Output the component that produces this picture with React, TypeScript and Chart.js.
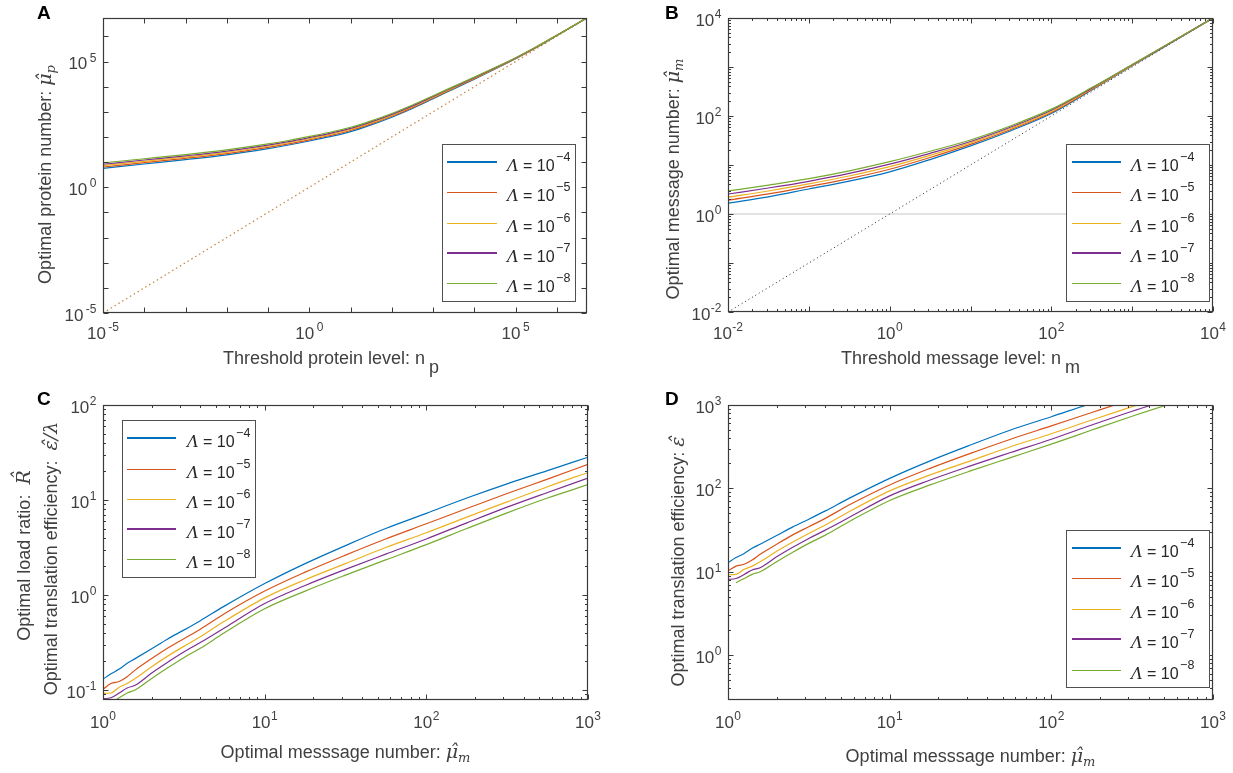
import React, { useEffect, useRef } from 'react';
import { Chart, registerables } from 'chart.js';

Chart.register(...registerables);

const SANS = '"Liberation Sans", Arial, Helvetica, sans-serif';
const SERIF = '"DejaVu Serif", "Liberation Serif", serif';

const COLORS = ['#0072BD', '#D95319', '#EDB120', '#7E2F8E', '#77AC30'];
const LAMBDA_EXP = ['\u22124', '\u22125', '\u22126', '\u22127', '\u22128'];

// ---------- Panel A : optimal protein number vs threshold protein level ----------
const A_X = [1e-5, 1e-4, 1e-3, 1e-2, 0.1, 0.316, 1, 3.16, 10, 31.6, 100, 316, 1000, 3162, 1e4, 31623, 1e5, 316228, 1e6, 5.37e6];
const A_L4 = [5.62, 8.41, 12.6, 19.5, 34.5, 47.9, 69.2, 103, 164, 302, 610, 1349, 3311, 8128, 19953, 50119, 128825, 358922, 1.076e6, 5.45e6];
const A_L5 = [6.38, 9.49, 14.1, 21.9, 38.4, 53.1, 76.7, 114, 181, 331, 665, 1462, 3548, 8610, 20893, 51880, 131826, 365174, 1.086e6, 5.45e6];
const A_L6 = [7.24, 10.7, 15.8, 24.5, 42.7, 58.9, 85.1, 126, 200, 363, 724, 1585, 3802, 9120, 21878, 53703, 134896, 371535, 1.096e6, 5.45e6];
const A_L7 = [8.22, 12.1, 17.8, 27.5, 47.4, 65.3, 94.4, 139, 220, 398, 790, 1718, 4074, 9661, 22909, 55590, 138038, 378034, 1.107e6, 5.45e6];
const A_L8 = [9.33, 13.6, 20.0, 30.9, 52.7, 72.4, 105, 154, 243, 437, 861, 1862, 4365, 10233, 23988, 57544, 141254, 384592, 1.117e6, 5.45e6];
const A_DIAG = [1e-5, 5.37e6];

// ---------- Panel B : optimal message number vs threshold message level ----------
const B_X = [0.01, 0.0316, 0.1, 0.316, 1, 3.16, 10, 31.6, 100, 316, 1000, 3162, 10000];
const B_L4 = [1.66, 2.24, 3.24, 4.68, 7.24, 12.9, 24.5, 50.1, 112, 339, 1059, 3251, 10000];
const B_L5 = [1.92, 2.57, 3.65, 5.28, 8.18, 14.2, 26.3, 53.1, 118, 349, 1074, 3273, 10000];
const B_L6 = [2.21, 2.95, 4.12, 5.96, 9.23, 15.7, 28.2, 56.2, 124, 359, 1090, 3300, 10000];
const B_L7 = [2.56, 3.39, 4.65, 6.72, 10.4, 17.3, 30.2, 59.6, 131, 369, 1107, 3327, 10000];
const B_L8 = [2.95, 3.89, 5.25, 7.59, 11.7, 19.1, 32.4, 63.1, 138, 380, 1122, 3350, 10000];
const B_DIAG = [0.01, 10000];
const B_UNIT = [1, 1];

// ---------- Panel C : optimal load ratio vs optimal message number ----------
const CD_X = [1, 1.12, 1.26, 1.41, 1.58, 2, 2.5, 3.16, 4, 5.6, 10, 17.8, 31.6, 56, 100, 178, 316, 562, 1000];
const C_L4 = [0.13, 0.148, 0.166, 0.191, 0.214, 0.272, 0.343, 0.427, 0.537, 0.759, 1.32, 2.14, 3.31, 5.01, 7.24, 10.5, 14.8, 20.4, 28.2];
const C_L5 = [0.102, 0.117, 0.123, 0.138, 0.162, 0.214, 0.275, 0.347, 0.437, 0.631, 1.1, 1.74, 2.63, 3.89, 5.62, 8.13, 11.7, 16.6, 23.7];
const C_L6 = [0.092, 0.093, 0.107, 0.117, 0.132, 0.176, 0.226, 0.288, 0.363, 0.525, 0.933, 1.45, 2.14, 3.16, 4.52, 6.61, 9.55, 13.8, 19.5];
const C_L7 = [0.081, 0.083, 0.093, 0.105, 0.112, 0.151, 0.195, 0.251, 0.316, 0.447, 0.813, 1.26, 1.86, 2.69, 3.89, 5.75, 8.41, 12.0, 17.0];
const C_L8 = [null, 0.074, 0.083, 0.093, 0.1, 0.132, 0.17, 0.219, 0.275, 0.398, 0.716, 1.1, 1.62, 2.34, 3.39, 5.01, 7.33, 10.5, 14.5];

// ---------- Panel D : optimal translation efficiency vs optimal message number ----------
const D_L4 = [12.8, 14.8, 16.6, 19.1, 21.4, 27.2, 34.3, 42.7, 53.7, 75.9, 132, 214, 331, 501, 724, 1050, 1480, 2040, 2820];
const D_L5 = [10.2, 11.7, 12.3, 13.8, 16.2, 21.4, 27.5, 34.7, 43.7, 63.1, 110, 174, 263, 389, 562, 813, 1170, 1660, 2370];
const D_L6 = [9.2, 9.3, 10.7, 11.7, 13.2, 17.6, 22.6, 28.8, 36.3, 52.5, 93.3, 145, 214, 316, 452, 661, 955, 1380, 1950];
const D_L7 = [8.1, 8.3, 9.3, 10.5, 11.2, 15.1, 19.5, 25.1, 31.6, 44.7, 81.3, 126, 186, 269, 389, 575, 841, 1200, 1700];
const D_L8 = [null, 7.4, 8.3, 9.3, 10.0, 13.2, 17.0, 21.9, 27.5, 39.8, 71.6, 110, 162, 234, 339, 501, 733, 1050, 1450];

// tick labels (exponents of 10)
const A_X_TICKS = [1e-5, 1, 1e5];
const A_X_EXP = ['-5', '0', '5'];
const A_Y_TICKS = [1e-5, 1, 1e5];
const A_Y_EXP = ['-5', '0', '5'];
const B_TICKS = [1e-2, 1, 1e2, 1e4];
const B_EXP = ['-2', '0', '2', '4'];
const C_X_TICKS = [1, 10, 100, 1000];
const C_X_EXP = ['0', '1', '2', '3'];
const C_Y_TICKS = [0.1, 1, 10, 100];
const C_Y_EXP = ['-1', '0', '1', '2'];
const D_Y_TICKS = [1, 10, 100, 1000];
const D_Y_EXP = ['0', '1', '2', '3'];

type Seg = { t: string; f: string; dy?: number; hat?: boolean; hatLift?: number; gb?: number };

const T18 = `18px ${SANS}`;
const MI18 = `italic 19px ${SERIF}`;
const MI13 = `italic 13px ${SERIF}`;
const TEXT = '#404040';
const FRAME = '#3a3a3a';

function drawSegs(ctx: CanvasRenderingContext2D, segs: Seg[], x: number, y: number, align: string, color: string) {
  let total = 0;
  for (const s of segs) {
    ctx.font = s.f;
    total += ctx.measureText(s.t).width + (s.gb || 0);
  }
  let cx = align === 'left' ? x : align === 'center' ? x - total / 2 : x - total;
  ctx.textAlign = 'left';
  ctx.textBaseline = 'alphabetic';
  ctx.fillStyle = color;
  for (const s of segs) {
    cx += s.gb || 0;
    ctx.font = s.f;
    const w = ctx.measureText(s.t).width;
    ctx.fillText(s.t, cx, y + (s.dy || 0));
    if (s.hat) {
      ctx.textAlign = 'center';
      ctx.fillText('\u02C6', cx + w / 2 + 1.5, y + (s.dy || 0) - (s.hatLift || 0));
      ctx.textAlign = 'left';
    }
    cx += w;
  }
}

interface LegendSpec { x: number; y: number; w: number; h: number; lx0: number; lx1: number; tx: number; row0: number; step: number }
interface PanelSpec {
  id: string; left: number; top: number; width: number; height: number;
  padding: { left: number; top: number; right: number; bottom: number };
  xMin: number; xMax: number; yMin: number; yMax: number;
  xTicks: number[]; xExp: string[]; yTicks: number[]; yExp: string[];
  minor: boolean; expGap: number;
  letter: string; letterPos: [number, number];
  xTitle: Seg[]; xTitleY: number; xTitleDx: number; xLabelOff: number;
  yTitles: { segs: Seg[]; x: number; shift: number }[];
  legend: LegendSpec;
  datasets: any[];
}

function decades(min: number, max: number) {
  const r: number[] = [];
  for (let e = Math.ceil(Math.log10(min) - 1e-9); e <= Math.floor(Math.log10(max) + 1e-9); e++) r.push(Math.pow(10, e));
  return r;
}
function minorTicks(min: number, max: number) {
  const r: number[] = [];
  for (let e = Math.floor(Math.log10(min)) - 1; e <= Math.ceil(Math.log10(max)); e++) {
    for (let k = 2; k <= 9; k++) {
      const v = k * Math.pow(10, e);
      if (v > min && v < max) r.push(v);
    }
  }
  return r;
}

function overlay(spec: PanelSpec) {
  return {
    id: 'overlay' + spec.id,
    afterDraw(chart: any) {
      const ctx: CanvasRenderingContext2D = chart.ctx;
      const a = chart.chartArea;
      const xs = chart.scales.x;
      const ys = chart.scales.y;
      const L = Math.round(a.left) + 0.5, R = Math.round(a.right) - 0.5;
      const T = Math.round(a.top) + 0.5, B = Math.round(a.bottom) - 0.5;
      ctx.save();
      // ticks
      ctx.strokeStyle = FRAME;
      ctx.lineWidth = 1;
      const drawX = (v: number, len: number) => {
        const p = Math.round(xs.getPixelForValue(v)) + 0.5;
        ctx.beginPath();
        ctx.moveTo(p, B); ctx.lineTo(p, B - len);
        ctx.moveTo(p, T); ctx.lineTo(p, T + len);
        ctx.stroke();
      };
      const drawY = (v: number, len: number) => {
        const p = Math.round(ys.getPixelForValue(v)) + 0.5;
        ctx.beginPath();
        ctx.moveTo(L, p); ctx.lineTo(L + len, p);
        ctx.moveTo(R, p); ctx.lineTo(R - len, p);
        ctx.stroke();
      };
      decades(spec.xMin, spec.xMax).forEach((v) => drawX(v, 5));
      decades(spec.yMin, spec.yMax).forEach((v) => drawY(v, 5));
      if (spec.minor) {
        minorTicks(spec.xMin, spec.xMax).forEach((v) => drawX(v, 2.5));
        minorTicks(spec.yMin, spec.yMax).forEach((v) => drawY(v, 2.5));
      }
      // frame
      ctx.strokeStyle = FRAME;
      ctx.lineWidth = 1.2;
      ctx.strokeRect(L, T, R - L, B - T);

      // tick labels
      const base = `17px ${SANS}`;
      const sup = `12px ${SANS}`;
      spec.xTicks.forEach((v, i) => {
        const p = xs.getPixelForValue(v);
        drawSegs(ctx, [{ t: '10', f: base }, { t: spec.xExp[i], f: sup, dy: -8, gb: spec.expGap }], p, a.bottom + spec.xLabelOff, 'center', TEXT);
      });
      spec.yTicks.forEach((v, i) => {
        const p = ys.getPixelForValue(v);
        drawSegs(ctx, [{ t: '10', f: base }, { t: spec.yExp[i], f: sup, dy: -7.5, gb: spec.expGap }], a.left - 6.5, p + 7.5, 'right', TEXT);
      });

      // axis titles
      drawSegs(ctx, spec.xTitle, (a.left + a.right) / 2 + spec.xTitleDx, spec.xTitleY, 'center', TEXT);
      spec.yTitles.forEach((yt) => {
        ctx.save();
        ctx.translate(yt.x, (a.top + a.bottom) / 2 + yt.shift);
        ctx.rotate(-Math.PI / 2);
        drawSegs(ctx, yt.segs, 0, 0, 'center', TEXT);
        ctx.restore();
      });

      // legend
      const lg = spec.legend;
      ctx.fillStyle = '#ffffff';
      ctx.fillRect(lg.x, lg.y, lg.w, lg.h);
      ctx.strokeStyle = '#505050';
      ctx.lineWidth = 1;
      ctx.strokeRect(lg.x + 0.5, lg.y + 0.5, lg.w, lg.h);
      const curves = chart.data.datasets.filter((d: any) => d.isCurve);
      curves.forEach((d: any, i: number) => {
        const thick = i === 0 || i === 3;
        const yr = Math.round(lg.row0 + i * lg.step);
        const y = thick ? yr : yr + 0.5;
        ctx.strokeStyle = d.borderColor;
        ctx.lineWidth = thick ? 2 : 1;
        ctx.beginPath();
        ctx.moveTo(lg.lx0, y);
        ctx.lineTo(lg.lx1, y);
        ctx.stroke();
        drawSegs(ctx, [
          { t: '\u039B', f: `italic 16px ${SERIF}` },
          { t: ' = 10', f: `16px ${SANS}` },
          { t: LAMBDA_EXP[i], f: `12.5px ${SANS}`, dy: -10, gb: 1.5 },
        ], lg.tx, yr + 8.5, 'left', '#262626');
      });

      // panel letter
      ctx.fillStyle = '#000';
      ctx.font = `bold 19px ${SANS}`;
      ctx.textAlign = 'left';
      ctx.textBaseline = 'alphabetic';
      ctx.fillText(spec.letter, spec.letterPos[0], spec.letterPos[1]);
      ctx.restore();
    },
  };
}

const pts = (xs: number[], ys: (number | null)[]) => xs.map((x, i) => ({ x, y: ys[i] }));

function curveSets(xs: number[], arrs: (number | null)[][]) {
  return arrs.map((ys, i) => ({
    label: 'Lambda 10^' + LAMBDA_EXP[i],
    isCurve: true,
    data: pts(xs, ys),
    borderColor: COLORS[i],
    borderWidth: 1.2,
    pointRadius: 0,
    fill: false,
    cubicInterpolationMode: 'monotone',
    order: 5 - i,
  }));
}

const muHat = (sub: string): Seg[] => [
  { t: '\u03BC', f: MI18, hat: true, hatLift: 0 },
  { t: sub, f: MI13, dy: 4 },
];

const SPECS: PanelSpec[] = [
  {
    id: 'A', left: 0, top: 0, width: 616, height: 386,
    padding: { left: 103, top: 18, right: 29, bottom: 73 },
    xMin: 1e-5, xMax: 5.37e6, yMin: 1e-5, yMax: 5.37e6,
    xTicks: A_X_TICKS, xExp: A_X_EXP, yTicks: A_Y_TICKS, yExp: A_Y_EXP,
    minor: false, expGap: 2.5,
    letter: 'A', letterPos: [37, 18.5],
    xTitle: [{ t: 'Threshold protein level: n', f: T18 }, { t: 'p', f: T18, dy: 9, gb: 4 }],
    xTitleY: 364, xTitleDx: -14, xLabelOff: 26,
    yTitles: [{ x: 51, shift: 9, segs: [{ t: 'Optimal protein number: ', f: T18 }, ...muHat('p')] }],
    legend: { x: 442, y: 144, w: 133, h: 157, lx0: 447, lx1: 497, tx: 507, row0: 161.7, step: 30.4 },
    datasets: [
      ...curveSets(A_X, [A_L4, A_L5, A_L6, A_L7, A_L8]),
      { data: pts(A_DIAG, A_DIAG), borderColor: '#C0843A', borderDash: [1.5, 3], borderWidth: 1.2, pointRadius: 0, order: 10 },
    ],
  },
  {
    id: 'B', left: 616, top: 0, width: 617, height: 386,
    padding: { left: 112, top: 18, right: 20, bottom: 74 },
    xMin: 0.01, xMax: 1e4, yMin: 0.01, yMax: 1e4,
    xTicks: B_TICKS, xExp: B_EXP, yTicks: B_TICKS, yExp: B_EXP,
    minor: true, expGap: 0.5,
    letter: 'B', letterPos: [49, 18.5],
    xTitle: [{ t: 'Threshold message level: n', f: T18 }, { t: 'm', f: T18, dy: 9, gb: 4 }],
    xTitleY: 364, xTitleDx: -10, xLabelOff: 27,
    yTitles: [{ x: 63, shift: 14, segs: [{ t: 'Optimal message number: ', f: T18 }, ...muHat('m')] }],
    legend: { x: 450, y: 144, w: 143, h: 157, lx0: 456, lx1: 505, tx: 515, row0: 161.7, step: 30.4 },
    datasets: [
      ...curveSets(B_X, [B_L4, B_L5, B_L6, B_L7, B_L8]),
      { data: pts(B_DIAG, B_DIAG), borderColor: '#222222', borderDash: [1, 3], borderWidth: 1, pointRadius: 0, order: 10 },
      { data: pts(B_DIAG, B_UNIT), borderColor: '#dadada', borderWidth: 1.5, pointRadius: 0, order: 11 },
    ],
  },
  {
    id: 'C', left: 0, top: 386, width: 616, height: 387,
    padding: { left: 103, top: 19, right: 28, bottom: 73 },
    xMin: 1, xMax: 1000, yMin: 0.0785, yMax: 100,
    xTicks: C_X_TICKS, xExp: C_X_EXP, yTicks: C_Y_TICKS, yExp: C_Y_EXP,
    minor: true, expGap: 0.5,
    letter: 'C', letterPos: [37, 19],
    xTitle: [{ t: 'Optimal messsage number: ', f: T18 }, ...muHat('m')],
    xTitleY: 371.5, xTitleDx: 0, xLabelOff: 27.5,
    yTitles: [
      { x: 30, shift: 3, segs: [{ t: 'Optimal load ratio:  ', f: T18 }, { t: 'R', f: MI18, hat: true, hatLift: 4 }] },
      { x: 57, shift: 6, segs: [{ t: 'Optimal translation efficiency:  ', f: T18 }, { t: '\u03B5', f: MI18, hat: true, hatLift: 0 }, { t: '/\u03BB', f: MI18 }] },
    ],
    legend: { x: 122, y: 34, w: 133, h: 157, lx0: 127, lx1: 176, tx: 187, row0: 52.3, step: 30.25 },
    datasets: curveSets(CD_X, [C_L4, C_L5, C_L6, C_L7, C_L8]),
  },
  {
    id: 'D', left: 616, top: 386, width: 617, height: 387,
    padding: { left: 112, top: 19, right: 20, bottom: 73 },
    xMin: 1, xMax: 1000, yMin: 0.29, yMax: 1000,
    xTicks: C_X_TICKS, xExp: C_X_EXP, yTicks: D_Y_TICKS, yExp: D_Y_EXP,
    minor: true, expGap: 0.5,
    letter: 'D', letterPos: [49, 19],
    xTitle: [{ t: 'Optimal messsage number: ', f: T18 }, ...muHat('m')],
    xTitleY: 376, xTitleDx: 0, xLabelOff: 27.5,
    yTitles: [{ x: 68, shift: 9, segs: [{ t: 'Optimal translation efficiency: ', f: T18 }, { t: '\u03B5', f: MI18, hat: true, hatLift: 0 }] }],
    legend: { x: 450, y: 144, w: 143, h: 157, lx0: 456, lx1: 505, tx: 515, row0: 161.7, step: 30.5 },
    datasets: curveSets(CD_X, [D_L4, D_L5, D_L6, D_L7, D_L8]),
  },
];

function Panel({ spec }: { spec: PanelSpec }) {
  const ref = useRef<HTMLCanvasElement>(null);
  useEffect(() => {
    const chart = new Chart(ref.current as HTMLCanvasElement, {
      type: 'line',
      data: { datasets: spec.datasets },
      options: {
        responsive: false,
        animation: false,
        devicePixelRatio: 1,
        events: [],
        layout: { padding: spec.padding },
        plugins: { legend: { display: false }, tooltip: { enabled: false } },
        scales: {
          x: { type: 'logarithmic', min: spec.xMin, max: spec.xMax, display: false, bounds: 'data' },
          y: { type: 'logarithmic', min: spec.yMin, max: spec.yMax, display: false, bounds: 'data' },
        },
      } as any,
      plugins: [overlay(spec)],
    });
    return () => chart.destroy();
  }, [spec]);
  return (
    <canvas
      ref={ref}
      width={spec.width}
      height={spec.height}
      style={{ position: 'absolute', left: spec.left, top: spec.top, width: spec.width, height: spec.height }}
    />
  );
}

export default function App() {
  return (
    <div style={{ position: 'absolute', left: 0, top: 0, width: 1233, height: 773, background: '#ffffff', overflow: 'hidden' }}>
      {SPECS.map((s) => (
        <Panel key={s.id} spec={s} />
      ))}
    </div>
  );
}
